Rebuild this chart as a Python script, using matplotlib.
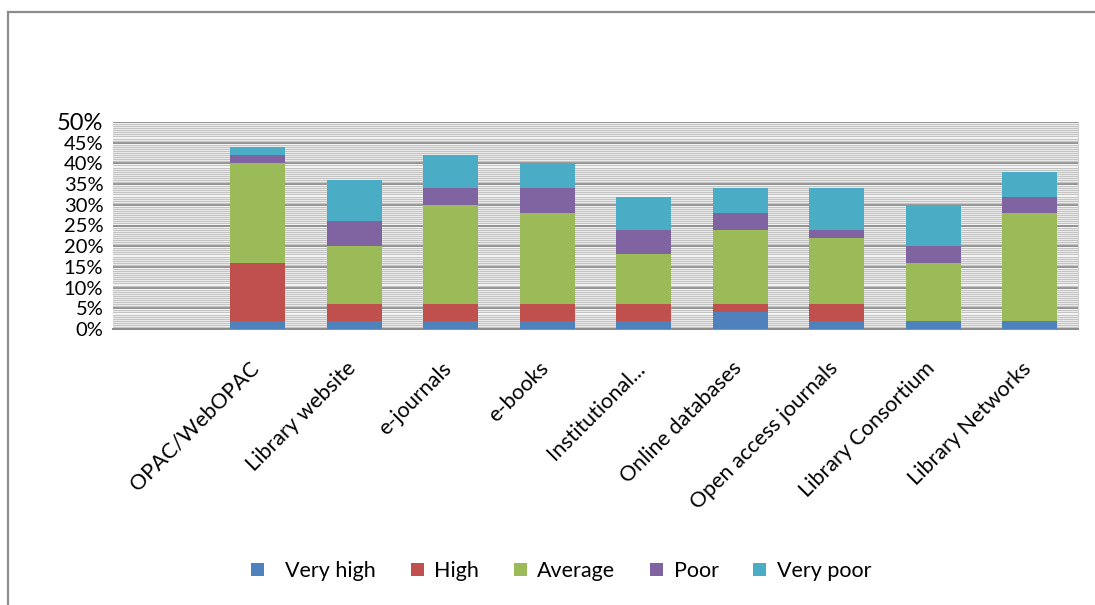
import matplotlib
matplotlib.use("Agg")
import matplotlib.pyplot as plt
import matplotlib.transforms as mtransforms
import numpy as np
from matplotlib.ticker import MultipleLocator, FuncFormatter

plt.rcParams['font.family'] = ['Lato', 'DejaVu Sans']

categories = ["", "OPAC/WebOPAC", "Library website", "e-journals", "e-books",
              "Institutional...", "Online databases", "Open access journals",
              "Library Consortium", "Library Networks"]
series_names = ["  Very high", "High", "Average", "Poor", "Very poor"]
very_high = [0, 2, 2, 2, 2, 2, 4, 2, 2, 2]
high      = [0, 14, 4, 4, 4, 4, 2, 4, 0, 0]
average   = [0, 24, 14, 24, 22, 12, 18, 16, 14, 26]
poor      = [0, 2, 6, 4, 6, 6, 4, 2, 4, 4]
very_poor = [0, 2, 10, 8, 6, 8, 6, 10, 10, 6]
colors = ["#4F81BD", "#C0504D", "#9BBB59", "#8064A2", "#4BACC6"]

W, H = 1095, 605
fig = plt.figure(figsize=(W / 100, H / 100), dpi=100)

# outer chart frame (left and top edges)
fig.add_artist(plt.Line2D([8 / W, 8 / W], [0, 1 - 12 / H], color="#8c8c8c", lw=1.6))
fig.add_artist(plt.Line2D([8 / W, 1], [1 - 12 / H, 1 - 12 / H], color="#8c8c8c", lw=1.6))

left, right, top, bottom = 113, 1078, 122, 329
ax = fig.add_axes([left / W, 1 - bottom / H, (right - left) / W, (bottom - top) / H])

x = np.arange(len(categories))
base = np.zeros(len(categories))
for name, vals, c in zip(series_names, [very_high, high, average, poor, very_poor], colors):
    v = np.array(vals, dtype=float)
    ax.bar(x, v, 0.57, bottom=base, color=c, label=name, zorder=3)
    base += v

ax.set_xlim(-0.5, len(categories) - 0.5)
ax.set_ylim(0, 50)
ax.yaxis.set_major_locator(MultipleLocator(5))
ax.yaxis.set_minor_locator(MultipleLocator(0.5))
ax.yaxis.set_major_formatter(FuncFormatter(lambda v, p: f"{int(round(v))}%"))
ax.grid(axis="y", which="minor", color="#c4c4c4", lw=1.0, zorder=0)
ax.grid(axis="y", which="major", color="#909090", lw=1.4, zorder=1)
ax.tick_params(axis="y", which="both", length=0, labelsize=14.5, pad=7)
ax.tick_params(axis="x", length=0, pad=21)
for lab in ax.get_yticklabels():
    if lab.get_text() == "50%":
        lab.set_fontsize(17)
for s in ["left", "top"]:
    ax.spines[s].set_visible(False)
ax.spines["right"].set_color("#d0d0d0")
ax.spines["bottom"].set_color("#8c8c8c")
ax.spines["bottom"].set_linewidth(1.4)

ax.set_xticks(x)
ax.set_xticklabels(categories, rotation=45, ha="right", rotation_mode="anchor", fontsize=15.5)
shift = mtransforms.ScaledTranslation(-9 / 100, 0, fig.dpi_scale_trans)
for lab in ax.get_xticklabels():
    lab.set_transform(lab.get_transform() + shift)

fig.legend(loc="center", bbox_to_anchor=(561 / W, 1 - 571 / H), ncol=5, frameon=False,
           fontsize=15.5, handlelength=0.6, handleheight=0.6, columnspacing=1.6,
           handletextpad=0.5)

fig.savefig("out.png", dpi=100, facecolor="white")
